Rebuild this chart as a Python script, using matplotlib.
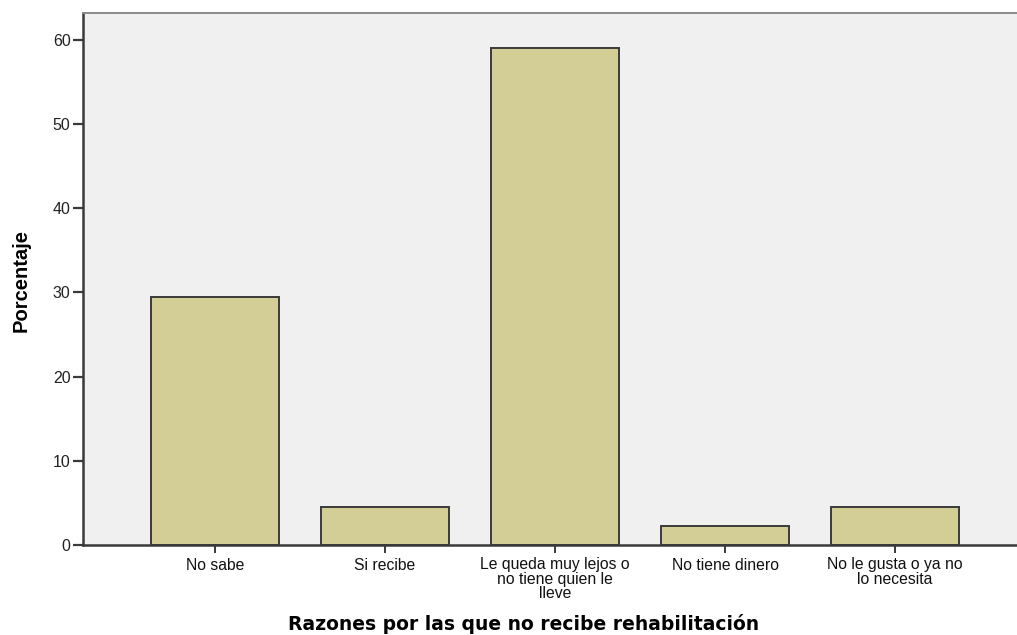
import matplotlib
matplotlib.use("Agg")
import matplotlib.pyplot as plt

categories = ["No sabe", "Si recibe", "Le queda muy lejos o\nno tiene quien le\nlleve",
              "No tiene dinero", "No le gusta o ya no\nlo necesita"]
values = [29.5, 4.5, 59.1, 2.3, 4.5]
yticks = [0, 10, 20, 30, 40, 50, 60]

W, H = 1017, 635
fig = plt.figure(figsize=(W / 100, H / 100), dpi=100)
ax = fig.add_axes([83 / W, (H - 545) / H, (1027 - 83) / W, (545 - 13) / H])
ax.set_facecolor("#F0F0F0")

x = list(range(len(categories)))
ax.bar(x, values, width=0.753, color="#D3CD96", edgecolor="#3A3A3A", linewidth=1.4, zorder=2)

ax.set_xlim(-0.776, len(categories) - 1 + 0.776)
ax.set_ylim(0, 63.2)
ax.set_yticks(yticks)
ax.set_yticklabels([str(v) for v in yticks], fontsize=11.5, family="Liberation Sans", color="#222222")
ax.set_xticks(x)
ax.set_xticklabels(categories, fontsize=11.3, family="Liberation Sans", color="#111111", linespacing=0.92)
ax.tick_params(axis="y", length=7, width=1.6, color="#3A3A3A", pad=2)
ax.tick_params(axis="x", length=6, width=1.4, color="#3A3A3A", pad=3)

for s in ["left", "bottom"]:
    ax.spines[s].set_color("#3A3A3A")
    ax.spines[s].set_linewidth(1.8)
ax.spines["top"].set_color("#8A8A8A")
ax.spines["top"].set_linewidth(1.4)
ax.spines["right"].set_visible(False)

fig.text(21 / W, 1 - 280 / H, "Porcentaje", rotation=90, ha="center", va="center",
         fontsize=14.5, fontweight="bold", family="Liberation Sans")
fig.text(524 / W, 1 - 624 / H, "Razones por las que no recibe rehabilitación", ha="center", va="center",
         fontsize=13.5, fontweight="bold", family="DejaVu Sans")

fig.savefig("out.png", dpi=100)
